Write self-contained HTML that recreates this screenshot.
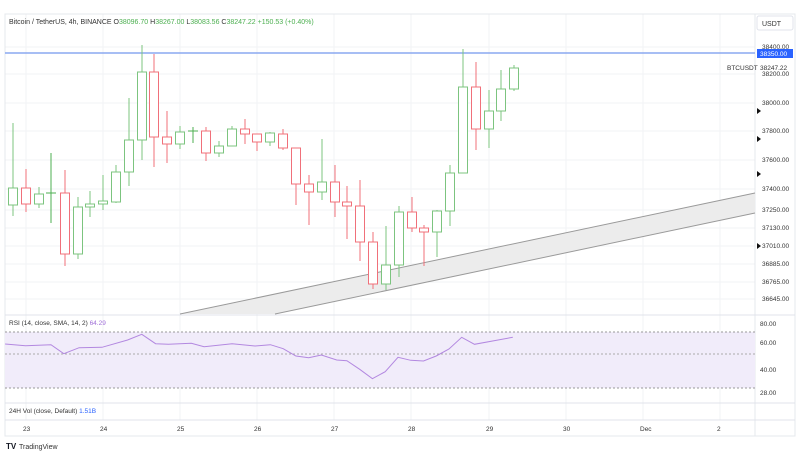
<!DOCTYPE html>
<html><head><meta charset="utf-8"><style>
html,body{margin:0;padding:0;background:#fff;width:800px;height:455px;overflow:hidden}
svg{display:block;font-family:"Liberation Sans",sans-serif}
</style></head><body>
<svg id="s" width="800" height="455" viewBox="0 0 800 455">
<rect x="0" y="0" width="800" height="455" fill="#fff"/>
<g id="grid" stroke="#f2f3f5" stroke-width="1"></g>
<rect x="5" y="14" width="790" height="422" fill="none" stroke="#e6e8ec"/>
<line x1="755" y1="14" x2="755" y2="436" stroke="#e6e8ec"/>
<line x1="5" y1="315" x2="795" y2="315" stroke="#e0e3eb"/>
<line x1="5" y1="403" x2="795" y2="403" stroke="#e0e3eb"/>
<line x1="5" y1="420" x2="795" y2="420" stroke="#e0e3eb"/>
<polygon points="180,314 755,193 755,213 275,314" fill="#ececec"/>
<line x1="180" y1="314" x2="755" y2="193" stroke="#9a9a9a" stroke-width="1"/>
<line x1="275" y1="314" x2="755" y2="213" stroke="#9a9a9a" stroke-width="1"/>
<line x1="5" y1="53" x2="755" y2="53" stroke="#8aa8f0" stroke-width="1.5"/>
<g id="candles"></g>
<text x="9" y="24" font-size="7" fill="#333">Bitcoin / TetherUS, 4h, BINANCE <tspan fill="#333">O</tspan><tspan fill="#4caf50">38096.70</tspan> <tspan fill="#333">H</tspan><tspan fill="#4caf50">38267.00</tspan> <tspan fill="#333">L</tspan><tspan fill="#4caf50">38083.56</tspan> <tspan fill="#333">C</tspan><tspan fill="#4caf50">38247.22</tspan> <tspan fill="#4caf50">+150.53 (+0.40%)</tspan></text>
<rect x="757" y="16" width="36" height="14" rx="2" fill="#fff" stroke="#e0e3eb"/>
<text x="762" y="26" font-size="7" fill="#333">USDT</text>
<g id="axis" font-size="6.5" fill="#333"></g>
<rect x="757" y="49" width="36" height="9" fill="#2962ff"/>
<text x="760" y="56" font-size="6.5" fill="#fff">38350.00</text>
<text x="727" y="70" font-size="6.5" fill="#333">BTCUSDT</text>
<text x="760" y="70" font-size="6.5" fill="#333">38247.22</text>
<g fill="#111"><polygon points="757,108 757,114 761,111"/><polygon points="757,136 757,142 761,139"/><polygon points="757,171 757,177 761,174"/><polygon points="757,243 757,249 761,246"/></g>
<rect x="5" y="332" width="750" height="56" fill="#f1ecfa"/>
<line x1="5" y1="332" x2="755" y2="332" stroke="#999" stroke-dasharray="2,2"/>
<line x1="5" y1="354" x2="755" y2="354" stroke="#aaa" stroke-dasharray="2,2"/>
<line x1="5" y1="388" x2="755" y2="388" stroke="#999" stroke-dasharray="2,2"/>
<polyline id="rsi" fill="none" stroke="#b388e0" stroke-width="1"/>
<text x="9" y="325" font-size="6.5" fill="#333">RSI (14, close, SMA, 14, 2) <tspan fill="#a070d8">64.29</tspan></text>
<g font-size="6.5" fill="#333"><text x="760" y="326">80.00</text><text x="760" y="345">60.00</text><text x="760" y="372">40.00</text><text x="760" y="395">28.00</text></g>
<text x="9" y="413" font-size="6.5" fill="#333">24H Vol (close, Default) <tspan fill="#2962ff">1.51B</tspan></text>
<g id="time" font-size="6.5" fill="#333"></g>
<text x="6" y="449" font-size="8" font-weight="bold" fill="#131722">TV</text>
<text x="19" y="449" font-size="7" fill="#333">TradingView</text>
</svg>
<script>
const NS="http://www.w3.org/2000/svg";
function el(p,t,a,txt){const e=document.createElementNS(NS,t);for(const k in a)e.setAttribute(k,a[k]);if(txt!==undefined)e.textContent=txt;document.getElementById(p).appendChild(e);return e;}
const grid=[47,74,103,131,160,189,210,228,246,264,282,299];
const labels=["38400.00","38200.00","38000.00","37800.00","37600.00","37400.00","37250.00","37130.00","37010.00","36885.00","36765.00","36645.00"];
grid.forEach((y,i)=>{el("grid","line",{x1:5,y1:y,x2:755,y2:y});el("axis","text",{x:762,y:y+2},labels[i]);});
const days=[[26,"23"],[103,"24"],[180,"25"],[257,"26"],[334,"27"],[411,"28"],[489,"29"],[566,"30"],[643,"Dec"],[720,"2"]];
days.forEach(d=>{el("grid","line",{x1:d[0],y1:14,x2:d[0],y2:420});el("time","text",{x:d[0]-3,y:431},d[1]);});
const C=[[13,205,188,123,216],[26,188,204,169,212],[39,204,194,187,208],[51,193,193,153,223],[65,193,254,170,266],[78,254,207,197,259],[90,207,204,191,217],[103,204,201,175,210],[116,202,172,165,203],[129,172,140,98,186],[142,140,72,45,160],[154,72,137,54,167],[167,137,144,111,163],[180,144,132,126,149],[193,131,131,127,143],[206,131,153,127,161],[219,153,146,141,157],[232,146,129,126,146],[245,129,134,119,144],[257,134,142,134,151],[270,142,133,132,146],[283,134,148,129,150],[296,148,184,148,205],[309,184,192,175,225],[322,192,182,139,200],[335,182,202,165,217],[347,202,206,186,239],[360,206,242,180,261],[373,242,284,232,289],[386,284,265,226,290],[399,265,212,206,277],[412,212,228,197,232],[424,228,232,225,266],[437,232,211,210,257],[450,211,173,165,226],[463,173,87,49,173],[476,87,129,62,150],[489,129,111,90,148],[501,111,89,70,121],[514,89,68,65,91]];
C.forEach(c=>{const[x,o,cl,h,l]=c;const col=cl<o?"#7cc47f":(cl==o?"#4caf50":"#f0707a");
const top=Math.min(o,cl),bot=Math.max(o,cl);
el("candles","line",{x1:x,y1:h,x2:x,y2:top,stroke:col});
el("candles","line",{x1:x,y1:bot,x2:x,y2:l,stroke:col});
if(bot-top<1){el("candles","line",{x1:x-5,y1:top,x2:x+5,y2:top,stroke:col});}
else el("candles","rect",{x:x-4.5,y:top,width:9,height:bot-top,fill:"#fff",stroke:col,"stroke-width":1});});
const R=[[10,102],[50,107],[100,104],[125,131],[155,113],[200,112],[250,90],[278,73],[305,101],[330,103],[375,100],[400,110],[455,101],[500,108],[530,104],[555,116],[580,138],[605,143],[630,135],[660,150],[680,152],[705,178],[730,206],[755,185],[780,142],[805,151],[830,153],[855,138],[880,117],[905,82],[930,103],[1005,82]];
document.getElementById("rsi").setAttribute("points",R.map(p=>(p[0]/1.96).toFixed(1)+","+(310+p[1]/3).toFixed(1)).join(" "));
</script>
</body></html>
